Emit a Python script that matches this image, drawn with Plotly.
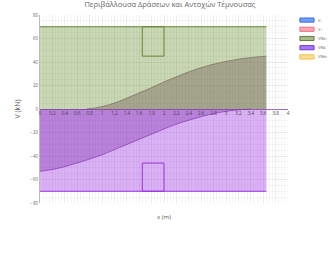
import plotly.graph_objects as go

title = "Περιβάλλουσα Δράσεων και Αντοχών Τέμνουσας"
names = ["V-", "V+", "VRd+", "VRd-", "VRdc"]

# negative action envelope
x_neg = [0, 0.25, 0.5, 0.75, 1.0, 1.25, 1.5, 1.75, 2.0, 2.25, 2.5, 2.75, 3.0, 3.25, 3.4]
v_neg = [-53, -51, -47.5, -43.5, -39, -33.5, -28, -22.5, -17, -12, -8, -4.5, -2, -0.5, 0]
# positive action envelope
x_pos = [0.75, 1.0, 1.25, 1.5, 1.75, 2.0, 2.25, 2.5, 2.75, 3.0, 3.25, 3.5, 3.65]
v_pos = [0, 2, 6, 11.5, 17, 23, 28.5, 33.5, 37.5, 40.5, 42.8, 44.3, 45]
# resistances
x_res = [0, 3.65]
v_res_pos = [70, 70]
v_res_neg = [-70, -70]
# reduced-resistance zone (notch)
x_notch = [1.65, 1.65, 2.0, 2.0, 1.65]
v_notch_pos = [70, 45, 45, 70, 70]
v_notch_neg = [-70, -46, -46, -70, -70]

c_green = "rgb(100,135,55)"
c_purple = "rgb(150,50,220)"

legend_fill = ["rgba(54,120,235,0.7)", "rgba(245,110,130,0.6)", "rgba(110,140,60,0.6)",
               "rgba(120,50,230,0.65)", "rgba(250,200,80,0.6)"]
legend_line = ["rgb(54,110,235)", "rgb(240,110,130)", "rgb(100,125,60)",
               "rgb(120,50,230)", "rgb(245,190,70)"]

fig = go.Figure()
fig.add_trace(go.Scatter(x=x_res, y=v_res_pos, name=names[2], mode="lines",
                         line=dict(color=c_green, width=1), fill="tozeroy",
                         fillcolor="rgba(100,140,40,0.35)"))
fig.add_trace(go.Scatter(x=x_notch, y=v_notch_pos, mode="lines",
                         line=dict(color=c_green, width=1)))
fig.add_trace(go.Scatter(x=x_res, y=v_res_neg, name=names[3], mode="lines",
                         line=dict(color=c_purple, width=1), fill="tozeroy",
                         fillcolor="rgba(160,50,230,0.38)"))
fig.add_trace(go.Scatter(x=x_notch, y=v_notch_neg, mode="lines",
                         line=dict(color=c_purple, width=1)))
fig.add_trace(go.Scatter(x=x_neg, y=v_neg, name=names[0], mode="lines", line_shape="spline",
                         line=dict(color="rgba(120,40,170,0.6)", width=1), fill="tozeroy",
                         fillcolor="rgba(120,40,170,0.35)"))
fig.add_trace(go.Scatter(x=x_pos, y=v_pos, name=names[1], mode="lines", line_shape="spline",
                         line=dict(color="rgba(110,90,80,0.6)", width=1), fill="tozeroy",
                         fillcolor="rgba(110,90,80,0.4)"))

# compact legend (Chart.js style boxes)
shapes = []
annotations = []
lx0, lx1, ltx = 1.048, 1.105, 1.113
ly0, lstep, lh = 0.973, 0.049, 0.011
for i, nm in enumerate(names):
    yc = ly0 - i * lstep
    shapes.append(dict(type="rect", xref="paper", yref="paper", x0=lx0, x1=lx1,
                       y0=yc - lh, y1=yc + lh, fillcolor=legend_fill[i],
                       line=dict(color=legend_line[i], width=1)))
    annotations.append(dict(text=nm, xref="paper", yref="paper", x=ltx, y=yc,
                            xanchor="left", yanchor="middle", showarrow=False,
                            font=dict(size=4, color="#666")))
annotations.append(dict(text="x (m)", xref="paper", yref="paper", x=0.5, y=-0.045,
                        xanchor="center", yanchor="top", showarrow=False,
                        font=dict(size=6, color="#555")))

fig.update_layout(
    width=334, height=258,
    margin=dict(l=40, r=46, t=15, b=55, autoexpand=False),
    paper_bgcolor="white", plot_bgcolor="white",
    title=dict(text=title, x=0.524, xref="paper", xanchor="center", y=0.992, yanchor="top",
               font=dict(size=7.5, color="#666")),
    showlegend=False,
    shapes=shapes,
    annotations=annotations,
    xaxis=dict(range=[0, 4], dtick=0.2, anchor="free", position=0.5, showline=True,
               linecolor="rgba(120,60,160,0.7)", linewidth=1, automargin=False,
               tickfont=dict(size=4.5, color="#444"), ticks="", showgrid=True,
               gridcolor="rgba(0,0,0,0.07)", zeroline=False,
               minor=dict(dtick=0.05, showgrid=True, gridcolor="rgba(0,0,0,0.035)")),
    yaxis=dict(range=[-80, 80], dtick=20, showline=True, linecolor="#bbb", automargin=False,
               tickfont=dict(size=4.5, color="#666"), ticks="", showgrid=True,
               gridcolor="rgba(0,0,0,0.07)", zeroline=False,
               title=dict(text="V (kN)", font=dict(size=7, color="#555"), standoff=8),
               minor=dict(dtick=5, showgrid=True, gridcolor="rgba(0,0,0,0.035)")),
)

fig.write_html("out.html", config={"displayModeBar": False},
               post_script="document.body.style.margin='0';")
